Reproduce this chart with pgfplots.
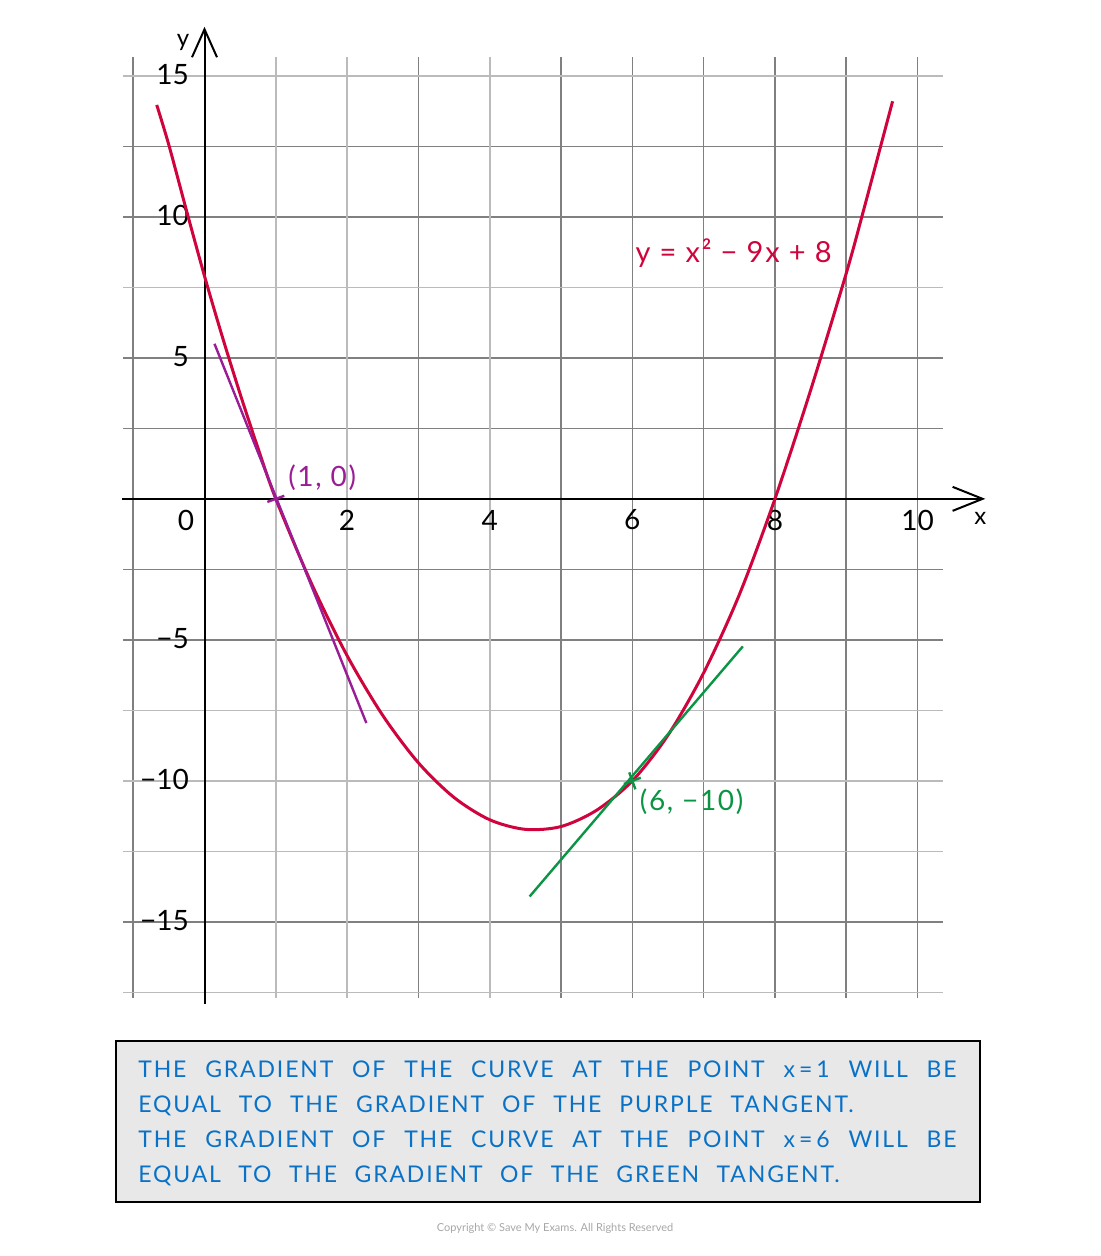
\documentclass[border=0pt]{standalone}
\usepackage{pgfplots}
\pgfplotsset{compat=1.18}
\usetikzlibrary{arrows.meta}
\usepackage{fontspec}
\setmainfont{Lato}
\newfontfamily\boxfont{Lato}[LetterSpace=8]
\newfontfamily\labfont{Lato}[LetterSpace=6]
\definecolor{curvered}{HTML}{D0043C}
\definecolor{tanpurple}{HTML}{9B1D96}
\definecolor{tangreen}{HTML}{0B9444}
\definecolor{textblue}{HTML}{0A72C6}
\definecolor{griddark}{HTML}{808080}
\definecolor{gridlight}{HTML}{BBBBBB}
\definecolor{boxgray}{HTML}{E8E8E8}
\begin{document}
\begin{tikzpicture}
\useasboundingbox (0pt,0pt) rectangle (550pt,628pt);
\begin{axis}[
  at={(61.5pt,129pt)}, anchor=south west,
  scale only axis, width=410pt, height=470.5pt,
  xmin=-1.143, xmax=10.357, ymin=-17.70, ymax=15.67,
  axis line style={draw=none},
  major tick length=0pt, minor tick length=0pt,
  xtick={-1,0,3,5,6,7,8,9,10}, xticklabels={},
  extra x ticks={1,2,4}, extra x tick labels={},
  ytick={-15,-5,-2.5,0,2.5,5,10,12.5}, yticklabels={},
  extra y ticks={-17.5,-12.5,-10,-7.5,7.5,15}, extra y tick labels={},
  grid=major,
  major grid style={griddark, line width=0.8pt},
  extra x tick style={major grid style={gridlight, line width=0.8pt}},
  extra y tick style={major grid style={gridlight, line width=0.8pt}},
  clip=false,
  font=\fontsize{14}{16}\selectfont,
]
% axes
\draw[black, line width=1pt, -{Straight Barb[length=15pt,width=12pt]}] (axis cs:-1.155,0) -- (axis cs:10.95,0);
\draw[black, line width=1pt, -{Straight Barb[length=14pt,width=12.5pt]}] (axis cs:0,-17.9) -- (axis cs:0,16.74);
\node[font=\fontsize{12}{14}\selectfont] at (axis cs:10.88,-0.68) {x};
\node[font=\fontsize{12}{14}\selectfont] at (axis cs:-0.3,16.2) {y};
% tick labels
\node at (axis cs:-0.26,-0.75) {0};
\node at (axis cs:2,-0.75) {2};
\node at (axis cs:4,-0.75) {4};
\node at (axis cs:6,-0.75) {6};
\node at (axis cs:8,-0.75) {8};
\node at (axis cs:10,-0.75) {10};
\node[anchor=east, inner sep=0pt] at (axis cs:-0.215,15.05) {15};
\node[anchor=east, inner sep=0pt] at (axis cs:-0.215,10.05) {10};
\node[anchor=east, inner sep=0pt] at (axis cs:-0.215,5.05) {5};
\node[anchor=east, inner sep=0pt] at (axis cs:-0.215,-4.95) {−5};
\node[anchor=east, inner sep=0pt] at (axis cs:-0.215,-9.95) {−10};
\node[anchor=east, inner sep=0pt] at (axis cs:-0.215,-14.95) {−15};
% curve
\addplot[curvered, line width=1.5pt, smooth] coordinates {
(-0.67,13.97) (-0.5,12.55) (-0.25,10.2) (0,7.9) (0.25,5.75) (0.5,3.72) (0.75,1.8) (1,0)
(1.5,-3.0) (2,-5.56) (2.5,-7.68) (3,-9.36) (3.5,-10.59) (4,-11.38) (4.5,-11.72)
(5,-11.62) (5.5,-11.04) (6,-10) (6.5,-8.38) (7,-6.17) (7.5,-3.4) (8,0) (8.5,3.85)
(9,8.0) (9.25,10.3) (9.65,14.1)};
% tangents
\addplot[tanpurple, line width=1.2pt] coordinates {(0.14,5.5) (2.27,-7.95)};
\addplot[tangreen, line width=1.2pt] coordinates {(4.56,-14.1) (7.55,-5.23)};
\addplot[only marks, tanpurple, mark=+, mark size=4.5pt, mark options={rotate=20, line width=1.2pt}] coordinates {(1,0)};
\addplot[only marks, tangreen, mark=+, mark size=4.5pt, mark options={rotate=20, line width=1.2pt}] coordinates {(6,-10)};
% labels
\node[anchor=west, inner sep=0pt, text=tanpurple, font=\labfont\fontsize{14}{16}\selectfont] at (axis cs:1.17,0.75) {(1, 0)};
\node[anchor=west, inner sep=0pt, text=tangreen, font=\labfont\fontsize{14}{16}\selectfont] at (axis cs:6.1,-10.75) {(6, −10)};
\node[anchor=west, inner sep=0pt, text=curvered, font=\labfont\fontsize{14.5}{16}\selectfont] at (axis cs:6.04,8.72) {y = x² − 9x + 8};
\end{axis}
% text box
\draw[line width=0.8pt, fill=boxgray] (58pt,27pt) rectangle (490pt,107.5pt);
\begin{scope}[every node/.style={anchor=base west, inner sep=0pt, text=textblue, font=\boxfont\fontsize{11.5}{14}\selectfont}]
\node at (69pt,89pt) {\makebox[409pt][s]{THE GRADIENT OF THE CURVE AT THE POINT x\kern2pt=\kern2pt1 WILL BE}};
\node at (69pt,71.5pt) {\makebox[357.5pt][s]{EQUAL TO THE GRADIENT OF THE PURPLE TANGENT.}};
\node at (69pt,54pt) {\makebox[409pt][s]{THE GRADIENT OF THE CURVE AT THE POINT x\kern2pt=\kern2pt6 WILL BE}};
\node at (69pt,36.5pt) {\makebox[350.5pt][s]{EQUAL TO THE GRADIENT OF THE GREEN TANGENT.}};
\end{scope}
\node[text=black!35, font=\fontsize{5.5}{7}\selectfont] at (277.5pt,14pt) {Copyright \textcopyright{} Save My Exams. All Rights Reserved};
\end{tikzpicture}
\end{document}
